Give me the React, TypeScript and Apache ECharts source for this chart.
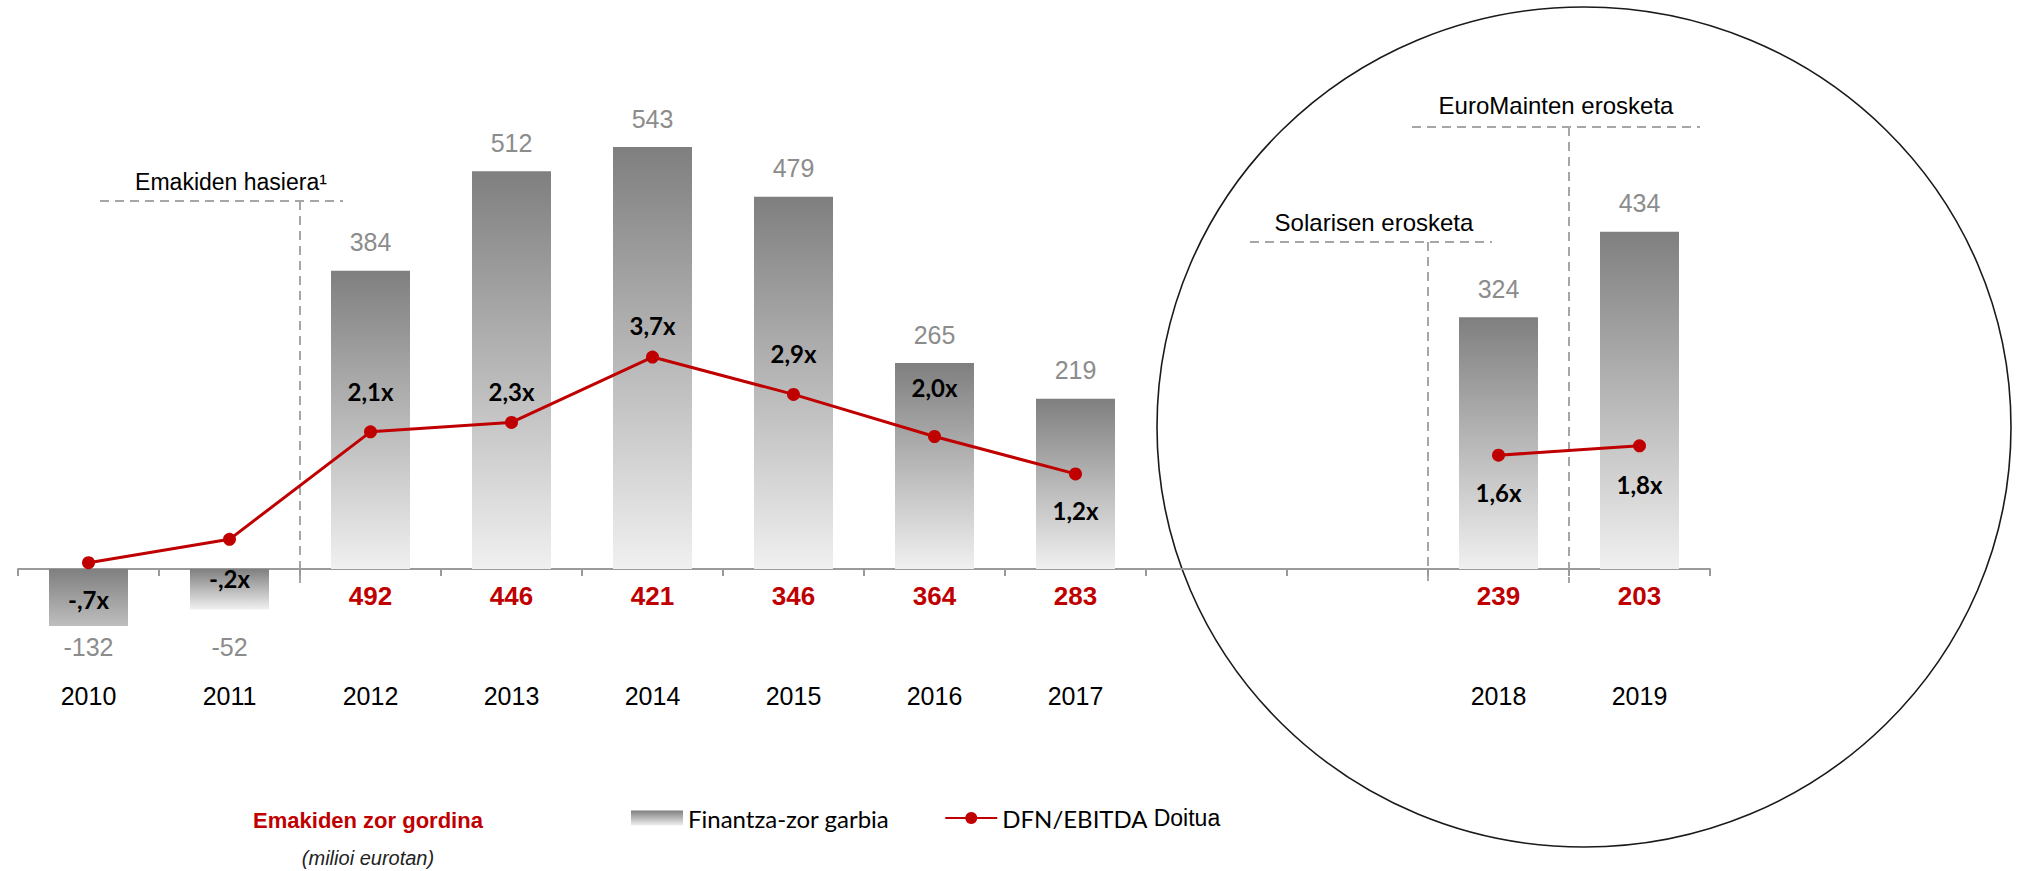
import React, { useEffect, useRef } from "react";
import * as echarts from "echarts";

// ---------- data ----------
const CATEGORIES = ["2010", "2011", "2012", "2013", "2014", "2015", "2016", "2017", "", "", "2018", "2019"];
const NET_DEBT = [-132, -52, 384, 512, 543, 479, 265, 219, null, null, 324, 434];
const RATIO = [-0.7, -0.2, 2.1, 2.3, 3.7, 2.9, 2.0, 1.2, null, null, 1.6, 1.8];
const CONCESSION_DEBT = [null, null, 492, 446, 421, 346, 364, 283, null, null, 239, 203];

const BAR_NAME = "Finantza-zor garbia";
const LINE_NAME = "DFN/EBITDA Doitua";

// ---------- style / layout ----------
const W = 2021;
const H = 871;
const GRID_LEFT = 18;
const GRID_RIGHT = 311;
const GRID_TOP = 100;
const AXIS_Y = 569;
const GRID_BOTTOM_Y = 626;
const BAR_PX = 0.777;
const RATIO_PX = 46.75;
const RATIO_ZERO_Y = 530;
const RATIO_LABEL_DY = [37, 39, -40, -31, -32, -41, -49, 37, 0, 0, 37, 39];
const NEG_LABEL_Y = 646;

const SANS = '"Liberation Sans", Arial, sans-serif';
const RED = "#c00000";
const DASH = "#a6a6a6";

const barMax = (AXIS_Y - GRID_TOP) / BAR_PX;
const barMin = -(GRID_BOTTOM_Y - AXIS_Y) / BAR_PX;
const ratioMax = (RATIO_ZERO_Y - GRID_TOP) / RATIO_PX;
const ratioMin = -(GRID_BOTTOM_Y - RATIO_ZERO_Y) / RATIO_PX;

const grad = (end: string) => ({
  type: "linear",
  x: 0,
  y: 0,
  x2: 0,
  y2: 1,
  colorStops: [
    { offset: 0, color: "#7f7f7f" },
    { offset: 1, color: end },
  ],
});

const fmtRatio = (v: number) => {
  let s = Math.abs(v).toFixed(1).replace(".", ",");
  if (s.startsWith("0,")) s = s.slice(1);
  return (v < 0 ? "-" : "") + s + "x";
};

export default function App() {
  const ref = useRef<HTMLDivElement>(null);

  useEffect(() => {
    if (!ref.current) return;
    const chart = echarts.init(ref.current, null, { renderer: "svg" });

    const catW = (W - GRID_LEFT - GRID_RIGHT) / CATEGORIES.length;
    const boundary = (i: number) => GRID_LEFT + i * catW;

    const barData = NET_DEBT.map((v) => {
      if (v == null) return null;
      if (v >= 0) {
        return { value: v, label: { position: "top", distance: 16 } };
      }
      const fullLen = Math.abs(v) * BAR_PX;
      const drawnLen = Math.min(fullLen, GRID_BOTTOM_Y - AXIS_Y);
      const ratio = drawnLen / fullLen;
      const g = Math.round(0x7f + ratio * (0xf0 - 0x7f));
      const hex = g.toString(16).padStart(2, "0");
      return {
        value: v,
        itemStyle: { color: grad("#" + hex + hex + hex) },
        label: { position: "bottom", distance: NEG_LABEL_Y - 12 - (AXIS_Y + drawnLen) },
      };
    });

    const lineData = RATIO.map((v, i) =>
      v == null ? null : { value: v, label: { offset: [0, RATIO_LABEL_DY[i]] } }
    );

    const dashed = (x1: number, y1: number, x2: number, y2: number) => ({
      type: "line",
      z: 0,
      silent: true,
      shape: { x1, y1, x2, y2 },
      style: { stroke: DASH, lineWidth: 2, lineDash: [9, 6] },
    });

    const txt = (text: string, x: number, y: number, font: string, fill: string) => ({
      type: "text",
      silent: true,
      z: 5,
      style: {
        text,
        x,
        y,
        font,
        fill,
        align: "center",
        verticalAlign: "middle",
        textAlign: "center",
        textVerticalAlign: "middle",
      },
    });

    chart.setOption({
      animation: false,
      grid: { left: GRID_LEFT, right: GRID_RIGHT, top: GRID_TOP, bottom: H - GRID_BOTTOM_Y, containLabel: false },
      legend: {
        left: 626,
        top: 801,
        itemWidth: 52,
        itemHeight: 15,
        itemGap: 55,
        selectedMode: false,
        data: [{ name: BAR_NAME, icon: "rect" }, { name: LINE_NAME }],
        formatter: (n: string) => (n === LINE_NAME ? "{a|DFN/EBITDA} {b|Doitua}" : n),
        textStyle: {
          fontFamily: "Lato",
          fontSize: 24,
          color: "#000",
          rich: {
            a: { fontFamily: "Lato", fontSize: 24, color: "#000" },
            b: { fontFamily: SANS, fontSize: 23, color: "#000" },
          },
        },
      },
      xAxis: {
        type: "category",
        data: CATEGORIES,
        axisLine: { onZero: true, onZeroAxisIndex: 0, lineStyle: { color: "#9a9a9a", width: 2 } },
        axisTick: { show: true, length: 7, lineStyle: { color: "#9a9a9a", width: 2 } },
        axisLabel: {
          interval: 0,
          margin: 4 - (GRID_BOTTOM_Y - AXIS_Y),
          formatter: (val: string, idx: number) => {
            const r = CONCESSION_DEBT[idx];
            return "{r|" + (r == null ? " " : String(r)) + "}\n{y|" + (val || " ") + "}";
          },
          rich: {
            r: { fontFamily: SANS, fontWeight: "bold", fontSize: 26, color: RED, lineHeight: 46 },
            y: { fontFamily: SANS, fontSize: 25, color: "#000", lineHeight: 154 },
          },
        },
        splitLine: { show: false },
      },
      yAxis: [
        { type: "value", show: false, min: barMin, max: barMax, splitLine: { show: false } },
        { type: "value", show: false, min: ratioMin, max: ratioMax, splitLine: { show: false } },
      ],
      series: [
        {
          name: BAR_NAME,
          type: "bar",
          yAxisIndex: 0,
          barWidth: 79,
          clip: true,
          z: 2,
          data: barData,
          itemStyle: { color: grad("#f0f0f0") },
          label: {
            show: true,
            color: "#8c8c8c",
            fontFamily: SANS,
            fontSize: 25,
            formatter: (p: any) => String(p.value),
          },
        },
        {
          name: LINE_NAME,
          type: "line",
          yAxisIndex: 1,
          z: 4,
          symbol: "circle",
          symbolSize: 13,
          connectNulls: false,
          data: lineData,
          itemStyle: { color: RED },
          lineStyle: { color: RED, width: 3 },
          label: {
            show: true,
            position: "inside",
            color: "#000",
            fontFamily: "Lato",
            fontWeight: "bold",
            fontSize: 24,
            formatter: (p: any) => fmtRatio(p.value),
          },
        },
      ],
      graphic: [
        {
          type: "ellipse",
          silent: true,
          z: 0,
          shape: { cx: 1584, cy: 427, rx: 427, ry: 420 },
          style: { fill: "none", stroke: "#1a1a1a", lineWidth: 1.6 },
        },
        dashed(100, 201, 343, 201),
        dashed(boundary(2), 201, boundary(2), 583),
        txt("Emakiden hasiera¹", 231, 182, "23px " + SANS, "#000"),
        dashed(1250, 242, 1492, 242),
        dashed(boundary(10), 242, boundary(10), 583),
        txt("Solarisen erosketa", 1374, 222, "24px " + SANS, "#000"),
        dashed(1412, 127, 1700, 127),
        dashed(boundary(11), 127, boundary(11), 583),
        txt("EuroMainten erosketa", 1556, 105, "24px " + SANS, "#000"),
        txt("Emakiden zor gordina", 368, 820, "bold 22px " + SANS, RED),
        txt("(milioi eurotan)", 368, 858, "italic 20px " + SANS, "#222"),
      ],
    });

    return () => chart.dispose();
  }, []);

  return (
    <div
      ref={ref}
      style={{ position: "absolute", left: 0, top: 0, width: W, height: H, background: "#fff" }}
    />
  );
}
